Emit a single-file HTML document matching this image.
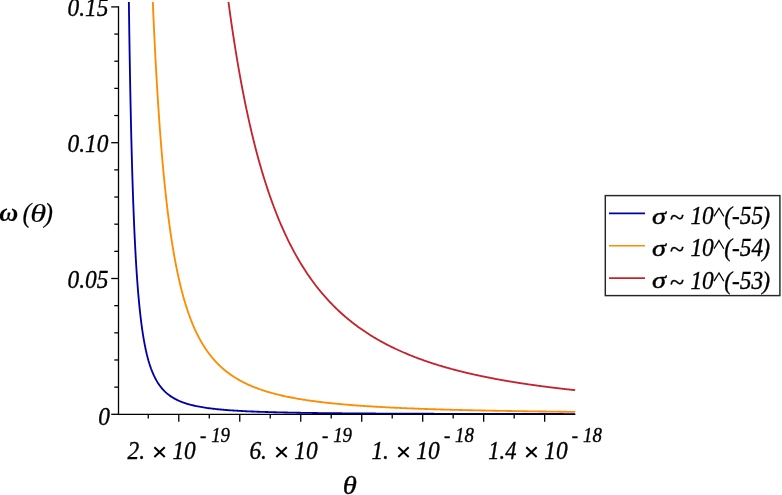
<!DOCTYPE html>
<html><head><meta charset="utf-8"><title>plot</title>
<style>
html,body{margin:0;padding:0;background:#fff;}
body{width:782px;height:495px;overflow:hidden;font-family:"Liberation Serif",serif;}
svg{display:block;will-change:transform;}
text{font-family:"Liberation Serif",serif;font-style:italic;fill:#000;stroke:#000;stroke-width:0.35px;white-space:pre;}
.sans{font-family:"Liberation Sans",sans-serif;font-style:normal;}
.up{font-style:normal;}
</style></head><body>
<svg width="782" height="495" viewBox="0 0 782 495">
<rect width="782" height="495" fill="#fff"/>
<path d="M228.47,2.00 L229.58,10.16 L230.69,18.09 L231.81,25.78 L232.92,33.25 L234.03,40.51 L235.14,47.56 L236.26,54.42 L237.37,61.08 L238.48,67.56 L239.59,73.87 L240.71,80.00 L241.82,85.97 L242.93,91.78 L244.04,97.44 L245.15,102.95 L246.27,108.32 L247.38,113.55 L248.49,118.65 L249.60,123.61 L250.72,128.46 L251.83,133.18 L252.94,137.79 L254.05,142.29 L255.16,146.68 L256.28,150.96 L257.39,155.14 L258.50,159.22 L259.61,163.20 L260.73,167.10 L261.84,170.90 L262.95,174.62 L264.06,178.25 L265.17,181.80 L266.29,185.27 L267.40,188.66 L268.51,191.98 L269.62,195.22 L270.74,198.40 L271.85,201.51 L272.96,204.55 L274.07,207.52 L275.19,210.43 L276.30,213.28 L277.41,216.08 L278.52,218.81 L279.63,221.49 L280.75,224.11 L281.86,226.68 L282.97,229.20 L284.08,231.67 L285.20,234.09 L286.31,236.46 L287.42,238.78 L288.53,241.06 L289.64,243.30 L290.76,245.49 L291.87,247.64 L292.98,249.75 L294.09,251.82 L295.21,253.85 L296.32,255.84 L297.43,257.80 L298.54,259.72 L299.66,261.61 L300.77,263.46 L301.88,265.27 L302.99,267.06 L304.10,268.81 L305.22,270.53 L306.33,272.22 L307.44,273.89 L308.55,275.52 L309.67,277.12 L310.78,278.70 L311.89,280.25 L313.00,281.77 L314.11,283.27 L315.23,284.74 L316.34,286.19 L317.45,287.61 L318.56,289.01 L319.68,290.39 L320.79,291.74 L321.90,293.08 L323.01,294.39 L324.12,295.68 L325.24,296.94 L326.35,298.19 L327.46,299.42 L328.57,300.63 L329.69,301.82 L330.80,302.99 L331.91,304.15 L333.02,305.28 L334.14,306.40 L335.25,307.50 L336.36,308.59 L337.47,309.65 L338.58,310.71 L339.70,311.74 L340.81,312.76 L341.92,313.77 L343.03,314.76 L344.15,315.73 L345.26,316.69 L346.37,317.64 L347.48,318.58 L348.59,319.50 L349.71,320.40 L350.82,321.30 L351.93,322.18 L353.04,323.05 L354.16,323.91 L355.27,324.75 L356.38,325.58 L357.49,326.40 L358.60,327.21 L359.72,328.01 L360.83,328.80 L361.94,329.58 L363.05,330.35 L364.17,331.10 L365.28,331.85 L366.39,332.58 L367.50,333.31 L368.62,334.03 L369.73,334.73 L370.84,335.43 L371.95,336.12 L373.06,336.80 L374.18,337.47 L375.29,338.13 L376.40,338.79 L377.51,339.43 L378.63,340.07 L379.74,340.70 L380.85,341.32 L381.96,341.93 L383.07,342.54 L384.19,343.14 L385.30,343.73 L386.41,344.31 L387.52,344.89 L388.64,345.46 L389.75,346.02 L390.86,346.57 L391.97,347.12 L393.09,347.66 L394.20,348.20 L395.31,348.73 L396.42,349.25 L397.53,349.77 L398.65,350.28 L399.76,350.78 L400.87,351.28 L401.98,351.77 L403.10,352.26 L404.21,352.74 L405.32,353.21 L406.43,353.68 L407.54,354.15 L408.66,354.61 L409.77,355.06 L410.88,355.51 L411.99,355.95 L413.11,356.39 L414.22,356.83 L415.33,357.26 L416.44,357.68 L417.55,358.10 L418.67,358.51 L419.78,358.92 L420.89,359.33 L422.00,359.73 L423.12,360.13 L424.23,360.52 L425.34,360.91 L426.45,361.29 L427.57,361.67 L428.68,362.05 L429.79,362.42 L430.90,362.79 L432.01,363.15 L433.13,363.51 L434.24,363.87 L435.35,364.22 L436.46,364.57 L437.58,364.92 L438.69,365.26 L439.80,365.60 L440.91,365.93 L442.02,366.26 L443.14,366.59 L444.25,366.91 L445.36,367.24 L446.47,367.55 L447.59,367.87 L448.70,368.18 L449.81,368.49 L450.23,368.60 L450.65,368.72 L451.07,368.83 L451.49,368.95 L451.91,369.06 L452.33,369.18 L452.75,369.29 L453.17,369.40 L453.58,369.51 L454.00,369.62 L454.42,369.74 L454.84,369.85 L455.26,369.96 L455.68,370.07 L456.10,370.18 L456.52,370.29 L456.94,370.39 L457.36,370.50 L457.78,370.61 L458.20,370.72 L458.62,370.83 L459.04,370.93 L459.46,371.04 L459.88,371.14 L460.29,371.25 L460.71,371.36 L461.13,371.46 L461.55,371.57 L461.97,371.67 L462.39,371.77 L462.81,371.88 L463.23,371.98 L463.65,372.08 L464.07,372.18 L464.49,372.29 L464.91,372.39 L465.33,372.49 L465.75,372.59 L466.17,372.69 L466.59,372.79 L467.00,372.89 L467.42,372.99 L467.84,373.09 L468.26,373.19 L468.68,373.28 L469.10,373.38 L469.52,373.48 L469.94,373.58 L470.36,373.67 L470.78,373.77 L471.20,373.87 L471.62,373.96 L472.04,374.06 L472.46,374.15 L472.88,374.25 L473.29,374.34 L473.71,374.44 L474.13,374.53 L474.55,374.62 L474.97,374.72 L475.39,374.81 L475.81,374.90 L476.23,374.99 L476.65,375.09 L477.07,375.18 L477.49,375.27 L477.91,375.36 L478.33,375.45 L478.75,375.54 L479.17,375.63 L479.59,375.72 L480.00,375.81 L480.42,375.90 L480.84,375.99 L481.26,376.07 L481.68,376.16 L482.10,376.25 L482.52,376.34 L482.94,376.42 L483.36,376.51 L483.78,376.60 L484.20,376.68 L484.62,376.77 L485.04,376.86 L485.46,376.94 L485.88,377.03 L486.30,377.11 L486.71,377.20 L487.13,377.28 L487.55,377.36 L487.97,377.45 L488.39,377.53 L488.81,377.61 L489.23,377.70 L489.65,377.78 L490.07,377.86 L490.49,377.94 L490.91,378.03 L491.33,378.11 L491.75,378.19 L492.17,378.27 L492.59,378.35 L493.00,378.43 L493.42,378.51 L493.84,378.59 L494.26,378.67 L494.68,378.75 L495.10,378.83 L495.52,378.91 L495.94,378.98 L496.36,379.06 L496.78,379.14 L497.20,379.22 L497.62,379.30 L498.04,379.37 L498.46,379.45 L498.88,379.53 L499.30,379.60 L499.71,379.68 L500.13,379.75 L500.55,379.83 L500.97,379.91 L501.39,379.98 L501.81,380.06 L502.23,380.13 L502.65,380.20 L503.07,380.28 L503.49,380.35 L503.91,380.43 L504.33,380.50 L504.75,380.57 L505.17,380.65 L505.59,380.72 L506.01,380.79 L506.42,380.86 L506.84,380.94 L507.26,381.01 L507.68,381.08 L508.10,381.15 L508.52,381.22 L508.94,381.29 L509.36,381.36 L509.78,381.43 L510.20,381.50 L510.62,381.57 L511.04,381.64 L511.46,381.71 L511.88,381.78 L512.30,381.85 L512.71,381.92 L513.13,381.99 L513.55,382.06 L513.97,382.13 L514.39,382.19 L514.81,382.26 L515.23,382.33 L515.65,382.40 L516.07,382.46 L516.49,382.53 L516.91,382.60 L517.33,382.66 L517.75,382.73 L518.17,382.80 L518.59,382.86 L519.01,382.93 L519.42,382.99 L519.84,383.06 L520.26,383.12 L520.68,383.19 L521.10,383.25 L521.52,383.32 L521.94,383.38 L522.36,383.45 L522.78,383.51 L523.20,383.57 L523.62,383.64 L524.04,383.70 L524.46,383.76 L524.88,383.83 L525.30,383.89 L525.72,383.95 L526.13,384.01 L526.55,384.08 L526.97,384.14 L527.39,384.20 L527.81,384.26 L528.23,384.32 L528.65,384.38 L529.07,384.44 L529.49,384.51 L529.91,384.57 L530.33,384.63 L530.75,384.69 L531.17,384.75 L531.59,384.81 L532.01,384.87 L532.43,384.93 L532.84,384.99 L533.26,385.04 L533.68,385.10 L534.10,385.16 L534.52,385.22 L534.94,385.28 L535.36,385.34 L535.78,385.40 L536.20,385.45 L536.62,385.51 L537.04,385.57 L537.46,385.63 L537.88,385.68 L538.30,385.74 L538.72,385.80 L539.13,385.85 L539.55,385.91 L539.97,385.97 L540.39,386.02 L540.81,386.08 L541.23,386.14 L541.65,386.19 L542.07,386.25 L542.49,386.30 L542.91,386.36 L543.33,386.41 L543.75,386.47 L544.17,386.52 L544.59,386.58 L545.01,386.63 L545.43,386.68 L545.84,386.74 L546.26,386.79 L546.68,386.85 L547.10,386.90 L547.52,386.95 L547.94,387.01 L548.36,387.06 L548.78,387.11 L549.20,387.17 L549.62,387.22 L550.04,387.27 L550.46,387.32 L550.88,387.38 L551.30,387.43 L551.72,387.48 L552.14,387.53 L552.55,387.58 L552.97,387.63 L553.39,387.69 L553.81,387.74 L554.23,387.79 L554.65,387.84 L555.07,387.89 L555.49,387.94 L555.91,387.99 L556.33,388.04 L556.75,388.09 L557.17,388.14 L557.59,388.19 L558.01,388.24 L558.43,388.29 L558.84,388.34 L559.26,388.39 L559.68,388.44 L560.10,388.49 L560.52,388.54 L560.94,388.58 L561.36,388.63 L561.78,388.68 L562.20,388.73 L562.62,388.78 L563.04,388.83 L563.46,388.87 L563.88,388.92 L564.30,388.97 L564.72,389.02 L565.14,389.06 L565.55,389.11 L565.97,389.16 L566.39,389.21 L566.81,389.25 L567.23,389.30 L567.65,389.35 L568.07,389.39 L568.49,389.44 L568.91,389.49 L569.33,389.53 L569.75,389.58 L570.17,389.62 L570.59,389.67 L571.01,389.71 L571.43,389.76 L571.85,389.81 L572.26,389.85 L572.68,389.90 L573.10,389.94 L573.52,389.99 L573.94,390.03 L574.36,390.07 L574.78,390.12 L575.20,390.16" fill="none" stroke="#c4242e" stroke-width="1.85" stroke-linejoin="round"/>
<path d="M152.80,2.00 L153.15,10.16 L153.50,18.09 L153.85,25.78 L154.20,33.25 L154.56,40.51 L154.91,47.56 L155.26,54.42 L155.61,61.08 L155.96,67.56 L156.31,73.87 L156.67,80.00 L157.02,85.97 L157.37,91.78 L157.72,97.44 L158.07,102.95 L158.42,108.32 L158.78,113.55 L159.13,118.65 L159.48,123.61 L159.83,128.46 L160.18,133.18 L160.54,137.79 L160.89,142.29 L161.24,146.68 L161.59,150.96 L161.94,155.14 L162.29,159.22 L162.65,163.20 L163.00,167.10 L163.35,170.90 L163.70,174.62 L164.05,178.25 L164.40,181.80 L164.76,185.27 L165.11,188.66 L165.46,191.98 L165.81,195.22 L166.16,198.40 L166.51,201.51 L166.87,204.55 L167.22,207.52 L167.57,210.43 L167.92,213.28 L168.27,216.08 L168.62,218.81 L168.98,221.49 L169.33,224.11 L169.68,226.68 L170.03,229.20 L170.38,231.67 L170.74,234.09 L171.09,236.46 L171.44,238.78 L171.79,241.06 L172.14,243.30 L172.49,245.49 L172.85,247.64 L173.20,249.75 L173.55,251.82 L173.90,253.85 L174.25,255.84 L174.60,257.80 L174.96,259.72 L175.31,261.61 L175.66,263.46 L176.01,265.27 L176.36,267.06 L176.71,268.81 L177.07,270.53 L177.42,272.22 L177.77,273.89 L178.12,275.52 L178.47,277.12 L178.82,278.70 L179.18,280.25 L179.53,281.77 L179.88,283.27 L180.23,284.74 L180.58,286.19 L180.94,287.61 L181.29,289.01 L181.64,290.39 L181.99,291.74 L182.34,293.08 L182.69,294.39 L183.05,295.68 L183.40,296.94 L183.75,298.19 L184.10,299.42 L184.45,300.63 L184.80,301.82 L185.16,302.99 L185.51,304.15 L185.86,305.28 L186.21,306.40 L186.56,307.50 L186.91,308.59 L187.27,309.65 L187.62,310.71 L187.97,311.74 L188.32,312.76 L188.67,313.77 L189.03,314.76 L189.38,315.73 L189.73,316.69 L190.08,317.64 L190.43,318.58 L190.78,319.50 L191.14,320.40 L191.49,321.30 L191.84,322.18 L192.19,323.05 L192.54,323.91 L192.89,324.75 L193.25,325.58 L193.60,326.40 L193.95,327.21 L194.30,328.01 L194.65,328.80 L195.00,329.58 L195.36,330.35 L195.71,331.10 L196.06,331.85 L196.41,332.58 L196.76,333.31 L197.11,334.03 L197.47,334.73 L197.82,335.43 L198.17,336.12 L198.52,336.80 L198.87,337.47 L199.23,338.13 L199.58,338.79 L199.93,339.43 L200.28,340.07 L200.63,340.70 L200.98,341.32 L201.34,341.93 L201.69,342.54 L202.04,343.14 L202.39,343.73 L202.74,344.31 L203.09,344.89 L203.45,345.46 L203.80,346.02 L204.15,346.57 L204.50,347.12 L204.85,347.66 L205.20,348.20 L205.56,348.73 L205.91,349.25 L206.26,349.77 L206.61,350.28 L206.96,350.78 L207.31,351.28 L207.67,351.77 L208.02,352.26 L208.37,352.74 L208.72,353.21 L209.07,353.68 L209.43,354.15 L209.78,354.61 L210.13,355.06 L210.48,355.51 L210.83,355.95 L211.18,356.39 L211.54,356.83 L211.89,357.26 L212.24,357.68 L212.59,358.10 L212.94,358.51 L213.29,358.92 L213.65,359.33 L214.00,359.73 L214.35,360.13 L214.70,360.52 L215.05,360.91 L215.40,361.29 L215.76,361.67 L216.11,362.05 L216.46,362.42 L216.81,362.79 L217.16,363.15 L217.52,363.51 L217.87,363.87 L218.22,364.22 L218.57,364.57 L218.92,364.92 L219.27,365.26 L219.63,365.60 L219.98,365.93 L220.33,366.26 L220.68,366.59 L221.03,366.91 L221.38,367.24 L221.74,367.55 L222.09,367.87 L222.44,368.18 L222.79,368.49 L223.97,369.50 L225.15,370.48 L226.33,371.43 L227.51,372.34 L228.68,373.23 L229.86,374.09 L231.04,374.92 L232.22,375.73 L233.40,376.51 L234.58,377.27 L235.76,378.01 L236.93,378.72 L238.11,379.41 L239.29,380.09 L240.47,380.74 L241.65,381.38 L242.83,382.00 L244.01,382.60 L245.18,383.18 L246.36,383.75 L247.54,384.30 L248.72,384.84 L249.90,385.36 L251.08,385.87 L252.26,386.37 L253.44,386.85 L254.61,387.32 L255.79,387.78 L256.97,388.23 L258.15,388.66 L259.33,389.09 L260.51,389.50 L261.69,389.91 L262.86,390.30 L264.04,390.69 L265.22,391.06 L266.40,391.43 L267.58,391.79 L268.76,392.14 L269.94,392.48 L271.11,392.82 L272.29,393.14 L273.47,393.46 L274.65,393.77 L275.83,394.08 L277.01,394.38 L278.19,394.67 L279.36,394.95 L280.54,395.23 L281.72,395.51 L282.90,395.77 L284.08,396.04 L285.26,396.29 L286.44,396.54 L287.62,396.79 L288.79,397.03 L289.97,397.26 L291.15,397.50 L292.33,397.72 L293.51,397.94 L294.69,398.16 L295.87,398.37 L297.04,398.58 L298.22,398.79 L299.40,398.99 L300.58,399.18 L301.76,399.38 L302.94,399.57 L304.12,399.75 L305.29,399.94 L306.47,400.11 L307.65,400.29 L308.83,400.46 L310.01,400.63 L311.19,400.80 L312.37,400.96 L313.55,401.12 L314.72,401.28 L315.90,401.43 L317.08,401.58 L318.26,401.73 L319.44,401.88 L320.62,402.02 L321.80,402.17 L322.97,402.30 L324.15,402.44 L325.33,402.58 L326.51,402.71 L327.69,402.84 L328.87,402.96 L330.05,403.09 L331.22,403.21 L332.40,403.34 L333.58,403.45 L334.76,403.57 L335.94,403.69 L337.12,403.80 L338.30,403.91 L339.47,404.02 L340.65,404.13 L341.83,404.24 L343.01,404.34 L344.19,404.45 L345.37,404.55 L346.55,404.65 L347.73,404.75 L348.90,404.85 L350.08,404.94 L351.26,405.04 L352.44,405.13 L353.62,405.22 L354.80,405.31 L355.98,405.40 L357.15,405.49 L358.33,405.57 L359.51,405.66 L360.69,405.74 L361.87,405.82 L363.05,405.90 L364.23,405.98 L365.40,406.06 L366.58,406.14 L367.76,406.22 L368.94,406.29 L370.12,406.37 L371.30,406.44 L372.48,406.51 L373.66,406.59 L374.83,406.66 L376.01,406.73 L377.19,406.79 L378.37,406.86 L379.55,406.93 L380.73,407.00 L381.91,407.06 L383.08,407.12 L384.26,407.19 L385.44,407.25 L386.62,407.31 L387.80,407.37 L388.98,407.43 L390.16,407.49 L391.33,407.55 L392.51,407.61 L393.69,407.67 L394.87,407.72 L396.05,407.78 L397.23,407.83 L398.41,407.89 L399.58,407.94 L400.76,407.99 L401.94,408.05 L403.12,408.10 L404.30,408.15 L405.48,408.20 L406.66,408.25 L407.84,408.30 L409.01,408.35 L410.19,408.39 L411.37,408.44 L412.55,408.49 L413.73,408.53 L414.91,408.58 L416.09,408.62 L417.26,408.67 L418.44,408.71 L419.62,408.76 L420.80,408.80 L421.98,408.84 L423.16,408.88 L424.34,408.93 L425.51,408.97 L426.69,409.01 L427.87,409.05 L429.05,409.09 L430.23,409.13 L431.41,409.17 L432.59,409.20 L433.76,409.24 L434.94,409.28 L436.12,409.32 L437.30,409.35 L438.48,409.39 L439.66,409.43 L440.84,409.46 L442.02,409.50 L443.19,409.53 L444.37,409.57 L445.55,409.60 L446.73,409.63 L447.91,409.67 L449.09,409.70 L450.27,409.73 L451.44,409.76 L452.62,409.80 L453.80,409.83 L454.98,409.86 L456.16,409.89 L457.34,409.92 L458.52,409.95 L459.69,409.98 L460.87,410.01 L462.05,410.04 L463.23,410.07 L464.41,410.10 L465.59,410.13 L466.77,410.15 L467.95,410.18 L469.12,410.21 L470.30,410.24 L471.48,410.26 L472.66,410.29 L473.84,410.32 L475.02,410.34 L476.20,410.37 L477.37,410.39 L478.55,410.42 L479.73,410.45 L480.91,410.47 L482.09,410.49 L483.27,410.52 L484.45,410.54 L485.62,410.57 L486.80,410.59 L487.98,410.61 L489.16,410.64 L490.34,410.66 L491.52,410.68 L492.70,410.71 L493.87,410.73 L495.05,410.75 L496.23,410.77 L497.41,410.80 L498.59,410.82 L499.77,410.84 L500.95,410.86 L502.13,410.88 L503.30,410.90 L504.48,410.92 L505.66,410.94 L506.84,410.96 L508.02,410.98 L509.20,411.00 L510.38,411.02 L511.55,411.04 L512.73,411.06 L513.91,411.08 L515.09,411.10 L516.27,411.12 L517.45,411.14 L518.63,411.16 L519.80,411.18 L520.98,411.19 L522.16,411.21 L523.34,411.23 L524.52,411.25 L525.70,411.26 L526.88,411.28 L528.05,411.30 L529.23,411.32 L530.41,411.33 L531.59,411.35 L532.77,411.37 L533.95,411.38 L535.13,411.40 L536.31,411.42 L537.48,411.43 L538.66,411.45 L539.84,411.46 L541.02,411.48 L542.20,411.50 L543.38,411.51 L544.56,411.53 L545.73,411.54 L546.91,411.56 L548.09,411.57 L549.27,411.59 L550.45,411.60 L551.63,411.62 L552.81,411.63 L553.98,411.65 L555.16,411.66 L556.34,411.67 L557.52,411.69 L558.70,411.70 L559.88,411.72 L561.06,411.73 L562.24,411.74 L563.41,411.76 L564.59,411.77 L565.77,411.78 L566.95,411.80 L568.13,411.81 L569.31,411.82 L570.49,411.84 L571.66,411.85 L572.84,411.86 L574.02,411.87 L575.20,411.89" fill="none" stroke="#ff8c00" stroke-width="1.85" stroke-linejoin="round"/>
<path d="M128.87,2.00 L128.98,10.16 L129.09,18.09 L129.20,25.78 L129.31,33.25 L129.42,40.51 L129.53,47.56 L129.65,54.42 L129.76,61.08 L129.87,67.56 L129.98,73.87 L130.09,80.00 L130.20,85.97 L130.31,91.78 L130.42,97.44 L130.54,102.95 L130.65,108.32 L130.76,113.55 L130.87,118.65 L130.98,123.61 L131.09,128.46 L131.20,133.18 L131.31,137.79 L131.43,142.29 L131.54,146.68 L131.65,150.96 L131.76,155.14 L131.87,159.22 L131.98,163.20 L132.09,167.10 L132.20,170.90 L132.32,174.62 L132.43,178.25 L132.54,181.80 L132.65,185.27 L132.76,188.66 L132.87,191.98 L132.98,195.22 L133.09,198.40 L133.20,201.51 L133.32,204.55 L133.43,207.52 L133.54,210.43 L133.65,213.28 L133.76,216.08 L133.87,218.81 L133.98,221.49 L134.09,224.11 L134.21,226.68 L134.32,229.20 L134.43,231.67 L134.54,234.09 L134.65,236.46 L134.76,238.78 L134.87,241.06 L134.98,243.30 L135.10,245.49 L135.21,247.64 L135.32,249.75 L135.43,251.82 L135.54,253.85 L135.65,255.84 L135.76,257.80 L135.87,259.72 L135.99,261.61 L136.10,263.46 L136.21,265.27 L136.32,267.06 L136.43,268.81 L136.54,270.53 L136.65,272.22 L136.76,273.89 L136.88,275.52 L136.99,277.12 L137.10,278.70 L137.21,280.25 L137.32,281.77 L137.43,283.27 L137.54,284.74 L137.65,286.19 L137.77,287.61 L137.88,289.01 L137.99,290.39 L138.10,291.74 L138.21,293.08 L138.32,294.39 L138.43,295.68 L138.54,296.94 L138.65,298.19 L138.77,299.42 L138.88,300.63 L138.99,301.82 L139.10,302.99 L139.21,304.15 L139.32,305.28 L139.43,306.40 L139.54,307.50 L139.66,308.59 L139.77,309.65 L139.88,310.71 L139.99,311.74 L140.10,312.76 L140.21,313.77 L140.32,314.76 L140.43,315.73 L140.55,316.69 L140.66,317.64 L140.77,318.58 L140.88,319.50 L140.99,320.40 L141.10,321.30 L141.21,322.18 L141.32,323.05 L141.44,323.91 L141.55,324.75 L141.66,325.58 L141.77,326.40 L141.88,327.21 L141.99,328.01 L142.10,328.80 L142.21,329.58 L142.33,330.35 L142.44,331.10 L142.55,331.85 L142.66,332.58 L142.77,333.31 L142.88,334.03 L142.99,334.73 L143.10,335.43 L143.22,336.12 L143.33,336.80 L143.44,337.47 L143.55,338.13 L143.66,338.79 L143.77,339.43 L143.88,340.07 L143.99,340.70 L144.11,341.32 L144.22,341.93 L144.33,342.54 L144.44,343.14 L144.55,343.73 L144.66,344.31 L144.77,344.89 L144.88,345.46 L144.99,346.02 L145.11,346.57 L145.22,347.12 L145.33,347.66 L145.44,348.20 L145.55,348.73 L145.66,349.25 L145.77,349.77 L145.88,350.28 L146.00,350.78 L146.11,351.28 L146.22,351.77 L146.33,352.26 L146.44,352.74 L146.55,353.21 L146.66,353.68 L146.77,354.15 L146.89,354.61 L147.00,355.06 L147.11,355.51 L147.22,355.95 L147.33,356.39 L147.44,356.83 L147.55,357.26 L147.66,357.68 L147.78,358.10 L147.89,358.51 L148.00,358.92 L148.11,359.33 L148.22,359.73 L148.33,360.13 L148.44,360.52 L148.55,360.91 L148.67,361.29 L148.78,361.67 L148.89,362.05 L149.00,362.42 L149.11,362.79 L149.22,363.15 L149.33,363.51 L149.44,363.87 L149.56,364.22 L149.67,364.57 L149.78,364.92 L149.89,365.26 L150.00,365.60 L150.11,365.93 L150.22,366.26 L150.33,366.59 L150.44,366.91 L150.56,367.24 L150.67,367.55 L150.78,367.87 L150.89,368.18 L151.00,368.49 L152.42,372.17 L153.84,375.42 L155.26,378.31 L156.68,380.89 L158.09,383.20 L159.51,385.28 L160.93,387.16 L162.35,388.86 L163.77,390.40 L165.19,391.81 L166.61,393.10 L168.03,394.28 L169.44,395.37 L170.86,396.37 L172.28,397.29 L173.70,398.14 L175.12,398.93 L176.54,399.66 L177.96,400.35 L179.38,400.98 L180.79,401.57 L182.21,402.13 L183.63,402.65 L185.05,403.13 L186.47,403.59 L187.89,404.02 L189.31,404.42 L190.73,404.80 L192.14,405.16 L193.56,405.50 L194.98,405.82 L196.40,406.13 L197.82,406.41 L199.24,406.69 L200.66,406.94 L202.08,407.19 L203.49,407.42 L204.91,407.65 L206.33,407.86 L207.75,408.06 L209.17,408.25 L210.59,408.43 L212.01,408.61 L213.42,408.78 L214.84,408.94 L216.26,409.09 L217.68,409.24 L219.10,409.38 L220.52,409.51 L221.94,409.64 L223.36,409.77 L224.77,409.89 L226.19,410.00 L227.61,410.11 L229.03,410.22 L230.45,410.32 L231.87,410.42 L233.29,410.51 L234.71,410.61 L236.12,410.69 L237.54,410.78 L238.96,410.86 L240.38,410.94 L241.80,411.02 L243.22,411.09 L244.64,411.16 L246.06,411.23 L247.47,411.30 L248.89,411.36 L250.31,411.42 L251.73,411.48 L253.15,411.54 L254.57,411.60 L255.99,411.66 L257.41,411.71 L258.82,411.76 L260.24,411.81 L261.66,411.86 L263.08,411.91 L264.50,411.95 L265.92,412.00 L267.34,412.04 L268.76,412.08 L270.17,412.13 L271.59,412.16 L273.01,412.20 L274.43,412.24 L275.85,412.28 L277.27,412.31 L278.69,412.35 L280.11,412.38 L281.52,412.42 L282.94,412.45 L284.36,412.48 L285.78,412.51 L287.20,412.54 L288.62,412.57 L290.04,412.60 L291.45,412.63 L292.87,412.65 L294.29,412.68 L295.71,412.70 L297.13,412.73 L298.55,412.75 L299.97,412.78 L301.39,412.80 L302.80,412.82 L304.22,412.85 L305.64,412.87 L307.06,412.89 L308.48,412.91 L309.90,412.93 L311.32,412.95 L312.74,412.97 L314.15,412.99 L315.57,413.01 L316.99,413.03 L318.41,413.05 L319.83,413.06 L321.25,413.08 L322.67,413.10 L324.09,413.11 L325.50,413.13 L326.92,413.15 L328.34,413.16 L329.76,413.18 L331.18,413.19 L332.60,413.21 L334.02,413.22 L335.44,413.23 L336.85,413.25 L338.27,413.26 L339.69,413.27 L341.11,413.29 L342.53,413.30 L343.95,413.31 L345.37,413.32 L346.79,413.34 L348.20,413.35 L349.62,413.36 L351.04,413.37 L352.46,413.38 L353.88,413.39 L355.30,413.40 L356.72,413.42 L358.13,413.43 L359.55,413.44 L360.97,413.45 L362.39,413.46 L363.81,413.47 L365.23,413.48 L366.65,413.48 L368.07,413.49 L369.48,413.50 L370.90,413.51 L372.32,413.52 L373.74,413.53 L375.16,413.54 L376.58,413.55 L378.00,413.55 L379.42,413.56 L380.83,413.57 L382.25,413.58 L383.67,413.59 L385.09,413.59 L386.51,413.60 L387.93,413.61 L389.35,413.62 L390.77,413.62 L392.18,413.63 L393.60,413.64 L395.02,413.64 L396.44,413.65 L397.86,413.66 L399.28,413.66 L400.70,413.67 L402.12,413.68 L403.53,413.68 L404.95,413.69 L406.37,413.69 L407.79,413.70 L409.21,413.71 L410.63,413.71 L412.05,413.72 L413.47,413.72 L414.88,413.73 L416.30,413.73 L417.72,413.74 L419.14,413.74 L420.56,413.75 L421.98,413.75 L423.40,413.76 L424.82,413.76 L426.23,413.77 L427.65,413.77 L429.07,413.78 L430.49,413.78 L431.91,413.79 L433.33,413.79 L434.75,413.80 L436.16,413.80 L437.58,413.81 L439.00,413.81 L440.42,413.81 L441.84,413.82 L443.26,413.82 L444.68,413.83 L446.10,413.83 L447.51,413.84 L448.93,413.84 L450.35,413.84 L451.77,413.85 L453.19,413.85 L454.61,413.85 L456.03,413.86 L457.45,413.86 L458.86,413.87 L460.28,413.87 L461.70,413.87 L463.12,413.88 L464.54,413.88 L465.96,413.88 L467.38,413.89 L468.80,413.89 L470.21,413.89 L471.63,413.90 L473.05,413.90 L474.47,413.90 L475.89,413.91 L477.31,413.91 L478.73,413.91 L480.15,413.92 L481.56,413.92 L482.98,413.92 L484.40,413.92 L485.82,413.93 L487.24,413.93 L488.66,413.93 L490.08,413.94 L491.50,413.94 L492.91,413.94 L494.33,413.94 L495.75,413.95 L497.17,413.95 L498.59,413.95 L500.01,413.95 L501.43,413.96 L502.84,413.96 L504.26,413.96 L505.68,413.96 L507.10,413.97 L508.52,413.97 L509.94,413.97 L511.36,413.97 L512.78,413.98 L514.19,413.98 L515.61,413.98 L517.03,413.98 L518.45,413.99 L519.87,413.99 L521.29,413.99 L522.71,413.99 L524.13,413.99 L525.54,414.00 L526.96,414.00 L528.38,414.00 L529.80,414.00 L531.22,414.00 L532.64,414.01 L534.06,414.01 L535.48,414.01 L536.89,414.01 L538.31,414.01 L539.73,414.02 L541.15,414.02 L542.57,414.02 L543.99,414.02 L545.41,414.02 L546.83,414.03 L548.24,414.03 L549.66,414.03 L551.08,414.03 L552.50,414.03 L553.92,414.03 L555.34,414.04 L556.76,414.04 L558.18,414.04 L559.59,414.04 L561.01,414.04 L562.43,414.04 L563.85,414.05 L565.27,414.05 L566.69,414.05 L568.11,414.05 L569.53,414.05 L570.94,414.05 L572.36,414.06 L573.78,414.06 L575.20,414.06" fill="none" stroke="#0000aa" stroke-width="1.85" stroke-linejoin="round"/>
<g stroke="#000" stroke-width="1.3" fill="none">
<line x1="118.5" y1="6.35" x2="118.5" y2="414.95"/>
<line x1="117.85" y1="414.3" x2="575.2" y2="414.3"/>
<line x1="111.20" y1="414.30" x2="118.5" y2="414.30"/>
<line x1="114.30" y1="387.14" x2="118.5" y2="387.14"/>
<line x1="114.30" y1="359.98" x2="118.5" y2="359.98"/>
<line x1="114.30" y1="332.82" x2="118.5" y2="332.82"/>
<line x1="114.30" y1="305.66" x2="118.5" y2="305.66"/>
<line x1="111.20" y1="278.50" x2="118.5" y2="278.50"/>
<line x1="114.30" y1="251.34" x2="118.5" y2="251.34"/>
<line x1="114.30" y1="224.18" x2="118.5" y2="224.18"/>
<line x1="114.30" y1="197.02" x2="118.5" y2="197.02"/>
<line x1="114.30" y1="169.86" x2="118.5" y2="169.86"/>
<line x1="111.20" y1="142.70" x2="118.5" y2="142.70"/>
<line x1="114.30" y1="115.54" x2="118.5" y2="115.54"/>
<line x1="114.30" y1="88.38" x2="118.5" y2="88.38"/>
<line x1="114.30" y1="61.22" x2="118.5" y2="61.22"/>
<line x1="114.30" y1="34.06" x2="118.5" y2="34.06"/>
<line x1="111.20" y1="6.90" x2="118.5" y2="6.90"/>
<line x1="148.29" y1="414.3" x2="148.29" y2="418.50"/>
<line x1="178.78" y1="414.3" x2="178.78" y2="421.70"/>
<line x1="209.27" y1="414.3" x2="209.27" y2="418.50"/>
<line x1="239.76" y1="414.3" x2="239.76" y2="421.70"/>
<line x1="270.25" y1="414.3" x2="270.25" y2="418.50"/>
<line x1="300.74" y1="414.3" x2="300.74" y2="421.70"/>
<line x1="331.23" y1="414.3" x2="331.23" y2="418.50"/>
<line x1="361.72" y1="414.3" x2="361.72" y2="421.70"/>
<line x1="392.21" y1="414.3" x2="392.21" y2="418.50"/>
<line x1="422.70" y1="414.3" x2="422.70" y2="421.70"/>
<line x1="453.19" y1="414.3" x2="453.19" y2="418.50"/>
<line x1="483.68" y1="414.3" x2="483.68" y2="421.70"/>
<line x1="514.17" y1="414.3" x2="514.17" y2="418.50"/>
<line x1="544.66" y1="414.3" x2="544.66" y2="421.70"/>
</g>
<text transform="translate(108.40,16.40) scale(0.935,1)" font-size="25.0" text-anchor="end" >0.15</text>
<text transform="translate(108.40,152.20) scale(0.935,1)" font-size="25.0" text-anchor="end" >0.10</text>
<text transform="translate(108.40,288.00) scale(0.935,1)" font-size="25.0" text-anchor="end" >0.05</text>
<text transform="translate(110.00,424.70) scale(0.935,1)" font-size="25.0" text-anchor="end" >0</text>
<text transform="translate(127.48,459.10) scale(0.935,1)" font-size="25.0" text-anchor="start" >2.</text>
<path d="M154.38,447.3 l10.4,9.6 M164.78,447.3 l-10.4,9.6" stroke="#000" stroke-width="2" fill="none"/>
<text transform="translate(172.38,459.10) scale(0.935,1)" font-size="25.0" text-anchor="start" >10</text>
<text transform="translate(199.98,441.60) scale(0.935,1)" font-size="20.2" text-anchor="start" >-</text>
<text transform="translate(211.18,441.60) scale(0.935,1)" font-size="20.2" text-anchor="start" >19</text>
<text transform="translate(249.44,459.10) scale(0.935,1)" font-size="25.0" text-anchor="start" >6.</text>
<path d="M276.34,447.3 l10.4,9.6 M286.74,447.3 l-10.4,9.6" stroke="#000" stroke-width="2" fill="none"/>
<text transform="translate(294.34,459.10) scale(0.935,1)" font-size="25.0" text-anchor="start" >10</text>
<text transform="translate(321.94,441.60) scale(0.935,1)" font-size="20.2" text-anchor="start" >-</text>
<text transform="translate(333.14,441.60) scale(0.935,1)" font-size="20.2" text-anchor="start" >19</text>
<text transform="translate(371.40,459.10) scale(0.935,1)" font-size="25.0" text-anchor="start" >1.</text>
<path d="M398.30,447.3 l10.4,9.6 M408.70,447.3 l-10.4,9.6" stroke="#000" stroke-width="2" fill="none"/>
<text transform="translate(416.30,459.10) scale(0.935,1)" font-size="25.0" text-anchor="start" >10</text>
<text transform="translate(443.90,441.60) scale(0.935,1)" font-size="20.2" text-anchor="start" >-</text>
<text transform="translate(455.10,441.60) scale(0.935,1)" font-size="20.2" text-anchor="start" >18</text>
<text transform="translate(488.36,459.10) scale(0.9,1)" font-size="25.0" text-anchor="start" >1.4</text>
<path d="M526.26,447.3 l10.4,9.6 M536.66,447.3 l-10.4,9.6" stroke="#000" stroke-width="2" fill="none"/>
<text transform="translate(544.26,459.10) scale(0.935,1)" font-size="25.0" text-anchor="start" >10</text>
<text transform="translate(571.86,441.60) scale(0.935,1)" font-size="20.2" text-anchor="start" >-</text>
<text transform="translate(583.06,441.60) scale(0.935,1)" font-size="20.2" text-anchor="start" >18</text>
<text transform="translate(-0.80,221.20) scale(1.03,1)" font-size="25.5" text-anchor="start" font-weight="bold" style="stroke-width:0.1px">ω</text>
<text transform="translate(22.50,221.50) scale(0.95,1)" font-size="27.5" text-anchor="start" style="stroke-width:0.15px">(</text>
<text transform="translate(30.30,221.50) scale(1.25,1)" font-size="26" text-anchor="start" style="stroke-width:0.15px">θ</text>
<text transform="translate(44.20,221.50) scale(0.95,1)" font-size="27.5" text-anchor="start" style="stroke-width:0.15px">)</text>
<text transform="translate(349.70,493.50) scale(1.17,1)" font-size="24.5" text-anchor="middle" style="stroke-width:0.3px">θ</text>
<rect x="605.3" y="195.6" width="174.6" height="100" fill="#fff" stroke="#262626" stroke-width="1.45"/>
<line x1="609" y1="213.35" x2="645" y2="213.35" stroke="#0000aa" stroke-width="1.7"/>
<text transform="translate(651.90,223.65) scale(1.2,1)" font-size="23.5" text-anchor="start" style="stroke-width:0.42px">σ</text>
<text transform="translate(670.00,224.75) scale(1.0,1)" font-size="26" text-anchor="start" class="up">~</text>
<text transform="translate(690.40,223.75) scale(0.935,1)" font-size="25.0" text-anchor="start" >10</text>
<path d="M714.0,216.35 L719.0,208.15 L723.8,216.35" fill="none" stroke="#000" stroke-width="1.25" stroke-linejoin="miter"/>
<text transform="translate(724.30,223.75) scale(0.935,1)" font-size="25.0" text-anchor="start" >(-55</text>
<text transform="translate(762.20,223.75) scale(0.935,1)" font-size="25.0" text-anchor="start" >)</text>
<line x1="609" y1="245.75" x2="645" y2="245.75" stroke="#ff8c00" stroke-width="1.7"/>
<text transform="translate(651.90,256.05) scale(1.2,1)" font-size="23.5" text-anchor="start" style="stroke-width:0.42px">σ</text>
<text transform="translate(670.00,257.15) scale(1.0,1)" font-size="26" text-anchor="start" class="up">~</text>
<text transform="translate(690.40,256.15) scale(0.935,1)" font-size="25.0" text-anchor="start" >10</text>
<path d="M714.0,248.75 L719.0,240.55 L723.8,248.75" fill="none" stroke="#000" stroke-width="1.25" stroke-linejoin="miter"/>
<text transform="translate(724.30,256.15) scale(0.935,1)" font-size="25.0" text-anchor="start" >(-54</text>
<text transform="translate(762.20,256.15) scale(0.935,1)" font-size="25.0" text-anchor="start" >)</text>
<line x1="609" y1="278.15" x2="645" y2="278.15" stroke="#c4242e" stroke-width="1.7"/>
<text transform="translate(651.90,288.45) scale(1.2,1)" font-size="23.5" text-anchor="start" style="stroke-width:0.42px">σ</text>
<text transform="translate(670.00,289.55) scale(1.0,1)" font-size="26" text-anchor="start" class="up">~</text>
<text transform="translate(690.40,288.55) scale(0.935,1)" font-size="25.0" text-anchor="start" >10</text>
<path d="M714.0,281.15 L719.0,272.95 L723.8,281.15" fill="none" stroke="#000" stroke-width="1.25" stroke-linejoin="miter"/>
<text transform="translate(724.30,288.55) scale(0.935,1)" font-size="25.0" text-anchor="start" >(-53</text>
<text transform="translate(762.20,288.55) scale(0.935,1)" font-size="25.0" text-anchor="start" >)</text>
</svg>
</body></html>
